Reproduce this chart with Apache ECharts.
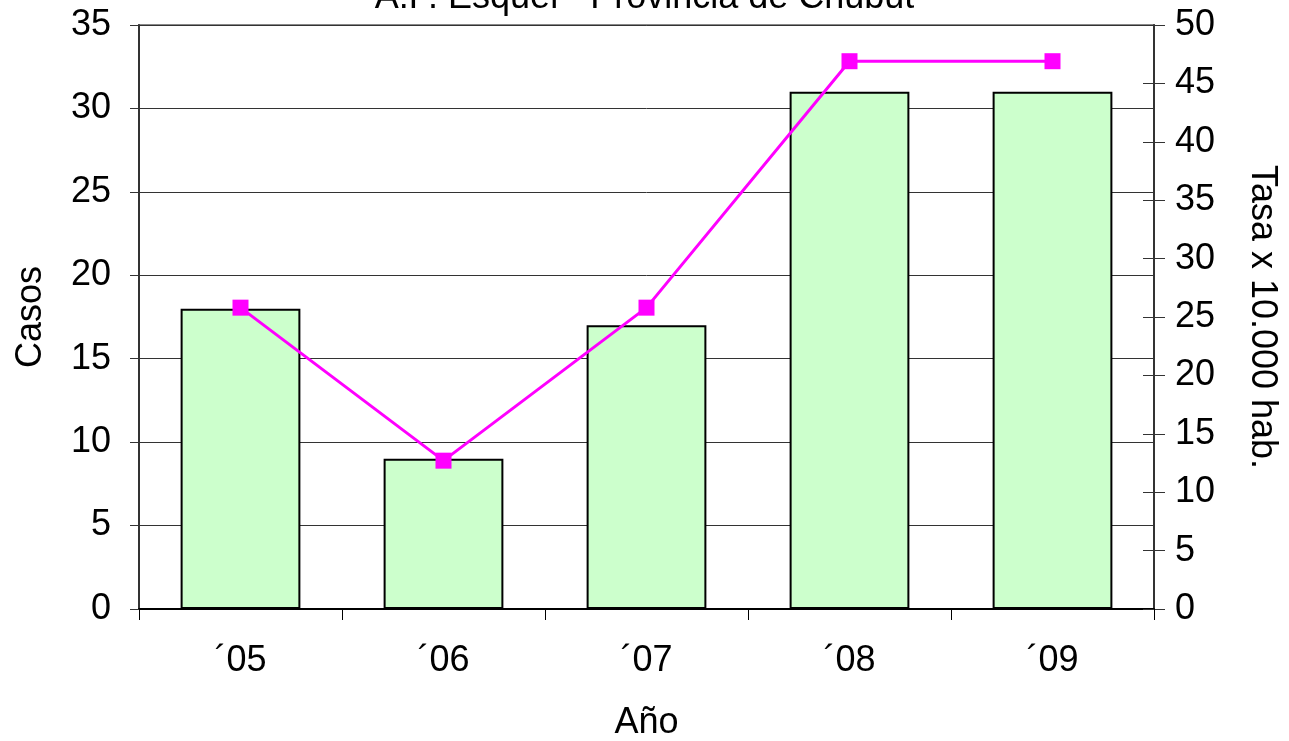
<!DOCTYPE html>
<html>
<head>
<meta charset="utf-8">
<script src="https://cdn.jsdelivr.net/npm/echarts@6/dist/echarts.min.js"></script>
<style>html,body{margin:0;padding:0;background:#fff}#c{width:1289px;height:741px}</style>
</head>
<body>
<div id="c"></div>
<script>
const titleText = 'A.P. Esquel - Provincia de Chubut';
const categories = ['´05', '´06', '´07', '´08', '´09'];
const casos = [18, 9, 17, 31, 31];
const tasa = [25.8, 12.7, 25.8, 46.9, 46.9];
const leftName = 'Casos';
const rightName = 'Tasa x 10.000 hab.';
const xName = 'Año';

const FONT = 'Liberation Sans, Arial, sans-serif';
const FS = 36;
const chart = echarts.init(document.getElementById('c'));
chart.setOption({
  animation: false,
  backgroundColor: '#fff',
  textStyle: { fontFamily: FONT },
  title: {
    text: titleText, left: 'center', top: -25,
    textStyle: { fontFamily: FONT, fontSize: FS, fontWeight: 'normal', color: '#000' }
  },
  grid: { left: 139, right: 135, top: 25, bottom: 132, outerBoundsMode: 'none', containLabel: false, show: true, borderColor: '#888', borderWidth: 2, backgroundColor: 'transparent' },
  xAxis: {
    type: 'category', data: categories,
    name: xName, nameLocation: 'middle', nameGap: 96,
    nameTextStyle: { fontFamily: FONT, fontSize: FS, color: '#000' },
    axisLine: { lineStyle: { color: '#000', width: 2 } },
    axisTick: { show: true, length: 11, lineStyle: { color: '#000', width: 1 } },
    axisLabel: { fontFamily: FONT, fontSize: FS, color: '#000', margin: 34 }
  },
  yAxis: [
    {
      type: 'value', min: 0, max: 35, interval: 5, position: 'left',
      name: leftName, nameLocation: 'middle', nameGap: 90, nameRotate: 90,
      nameTextStyle: { fontFamily: FONT, fontSize: FS, color: '#000' },
      axisLine: { show: true, lineStyle: { color: '#333', width: 2 } },
      axisTick: { show: true, length: 9, lineStyle: { color: '#333', width: 1 } },
      axisLabel: { fontFamily: FONT, fontSize: FS, color: '#000', margin: 28 },
      splitLine: { show: true, lineStyle: { color: '#333', width: 1 } }
    },
    {
      type: 'value', min: 0, max: 50, interval: 5, position: 'right',
      name: rightName, nameLocation: 'middle', nameGap: 90, nameRotate: -90,
      nameTextStyle: { fontFamily: FONT, fontSize: FS, color: '#000' },
      axisLine: { show: true, lineStyle: { color: '#333', width: 2 } },
      axisTick: { show: true, length: 11, lineStyle: { color: '#333', width: 1 } },
      axisLabel: { fontFamily: FONT, fontSize: FS, color: '#000', margin: 21 },
      splitLine: { show: false }
    },
    {
      type: 'value', min: 0, max: 50, interval: 5, position: 'right',
      axisLine: { show: false },
      axisTick: { show: true, inside: true, length: 11, lineStyle: { color: '#333', width: 1 } },
      axisLabel: { show: false },
      splitLine: { show: false }
    }
  ],
  series: [
    {
      type: 'bar', data: casos, yAxisIndex: 0, barWidth: '59%',
      itemStyle: { color: '#CCFFCC', borderColor: '#000', borderWidth: 2 }
    },
    {
      type: 'line', data: tasa, yAxisIndex: 1,
      symbol: 'rect', symbolSize: 16,
      lineStyle: { color: '#FF00FF', width: 3 },
      itemStyle: { color: '#FF00FF' }
    }
  ]
});
</script>
</body>
</html>
